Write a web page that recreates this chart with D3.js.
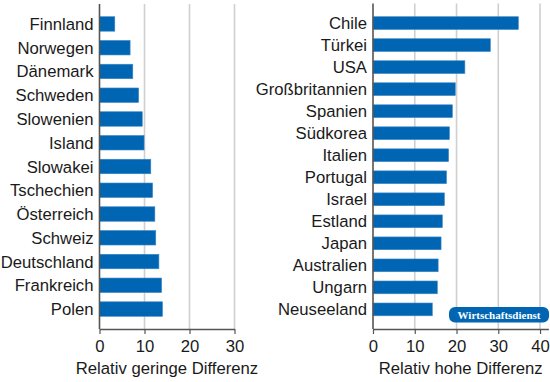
<!DOCTYPE html>
<html><head><meta charset="utf-8">
<script src="https://cdn.jsdelivr.net/npm/d3@7"></script>
<style>body{margin:0;background:#fff}svg{display:block}</style>
</head><body>
<svg id="c" width="550" height="382"></svg>
<script>
const leftCountries = ["Finnland","Norwegen","Dänemark","Schweden","Slowenien","Island","Slowakei","Tschechien","Österreich","Schweiz","Deutschland","Frankreich","Polen"];
const leftValues = [3.4,6.8,7.4,8.7,9.5,9.9,11.4,11.8,12.3,12.5,13.2,13.8,14.0];
const leftTicks = [0,10,20,30];
const leftTitle = "Relativ geringe Differenz";

const rightCountries = ["Chile","Türkei","USA","Großbritannien","Spanien","Südkorea","Italien","Portugal","Israel","Estland","Japan","Australien","Ungarn","Neuseeland"];
const rightValues = [34.8,28.1,22.0,19.7,19.0,18.3,18.1,17.6,17.1,16.6,16.3,15.6,15.4,14.2];
const rightTicks = [0,10,20,30,40];
const rightTitle = "Relativ hohe Differenz";
const badgeText = "Wirtschaftsdienst";

const svg = d3.select("#c");
const font = "'Liberation Sans', Arial, Helvetica, sans-serif";
const blue = "#0066b3";
const fs = 16.7;

function panel(cfg){
  const g = svg.append("g");
  const x = d3.scaleLinear().domain(cfg.domain).range([cfg.x0, cfg.x1]);
  const y = d3.scaleBand().domain(cfg.cats).range([cfg.y0, cfg.y1])
    .paddingInner(cfg.pi).paddingOuter(cfg.po);
  g.selectAll("line.grid").data(cfg.ticks.filter(t=>t>0)).enter().append("line")
    .attr("x1", d=>x(d)).attr("x2", d=>x(d))
    .attr("y1", cfg.y0).attr("y2", cfg.y1)
    .attr("stroke", "#cfcfcf").attr("stroke-width", 1.6);
  g.selectAll("rect.bar").data(cfg.cats).enter().append("rect")
    .attr("x", x(0)).attr("y", d=>y(d))
    .attr("width", (d,i)=>x(cfg.vals[i])-x(0))
    .attr("height", y.bandwidth())
    .attr("fill", blue).attr("stroke","#3f86c4").attr("stroke-width",0.6);
  g.selectAll("text.cat").data(cfg.cats).enter().append("text")
    .attr("x", x(0)-6).attr("y", d=>y(d)+y.bandwidth()/2)
    .attr("dy","0.36em").attr("text-anchor","end")
    .attr("font-family", font).attr("font-size", fs).attr("fill","#1a1a1a")
    .text(d=>d);
  g.append("line").attr("x1", x(0)).attr("x2", x(0)).attr("y1", cfg.y0).attr("y2", cfg.y1)
    .attr("stroke","#555").attr("stroke-width",1.6);
  const ax = g.append("g").attr("transform", `translate(0,${cfg.y1})`)
    .call(d3.axisBottom(x).tickValues(cfg.ticks).tickSize(5).tickSizeOuter(0).tickFormat(d3.format("d")));
  ax.select(".domain").attr("stroke","#555").attr("stroke-width",1.4);
  ax.selectAll(".tick line").attr("stroke","#555").attr("stroke-width",1.2);
  ax.selectAll(".tick text").attr("font-family", font).attr("font-size",fs).attr("fill","#1a1a1a").attr("dy","0.9em");
  g.append("text").attr("x", (cfg.x0+cfg.x1)/2).attr("y", 374)
    .attr("text-anchor","middle").attr("font-family", font).attr("font-size",fs).attr("fill","#1a1a1a")
    .text(cfg.title);
  return {x,y};
}

panel({cats:leftCountries, vals:leftValues, ticks:leftTicks, title:leftTitle,
  domain:[0,30], x0:99.5, x1:234.5, y0:4, y1:329, pi:0.39, po:0.535});
panel({cats:rightCountries, vals:rightValues, ticks:rightTicks, title:rightTitle,
  domain:[0,42], x0:373, x1:548.4, y0:3.5, y1:329, pi:0.42, po:0.6});

const bg = svg.append("g");
bg.append("rect").attr("x",449).attr("y",307).attr("width",100).attr("height",15.5)
  .attr("rx",6).attr("fill",blue);
bg.append("text").attr("x",499).attr("y",318.5).attr("text-anchor","middle")
  .attr("font-family","'Liberation Serif', 'DejaVu Serif', serif").attr("font-weight","bold")
  .attr("font-size",11).attr("fill","#fff").text(badgeText);
</script>
</body></html>
